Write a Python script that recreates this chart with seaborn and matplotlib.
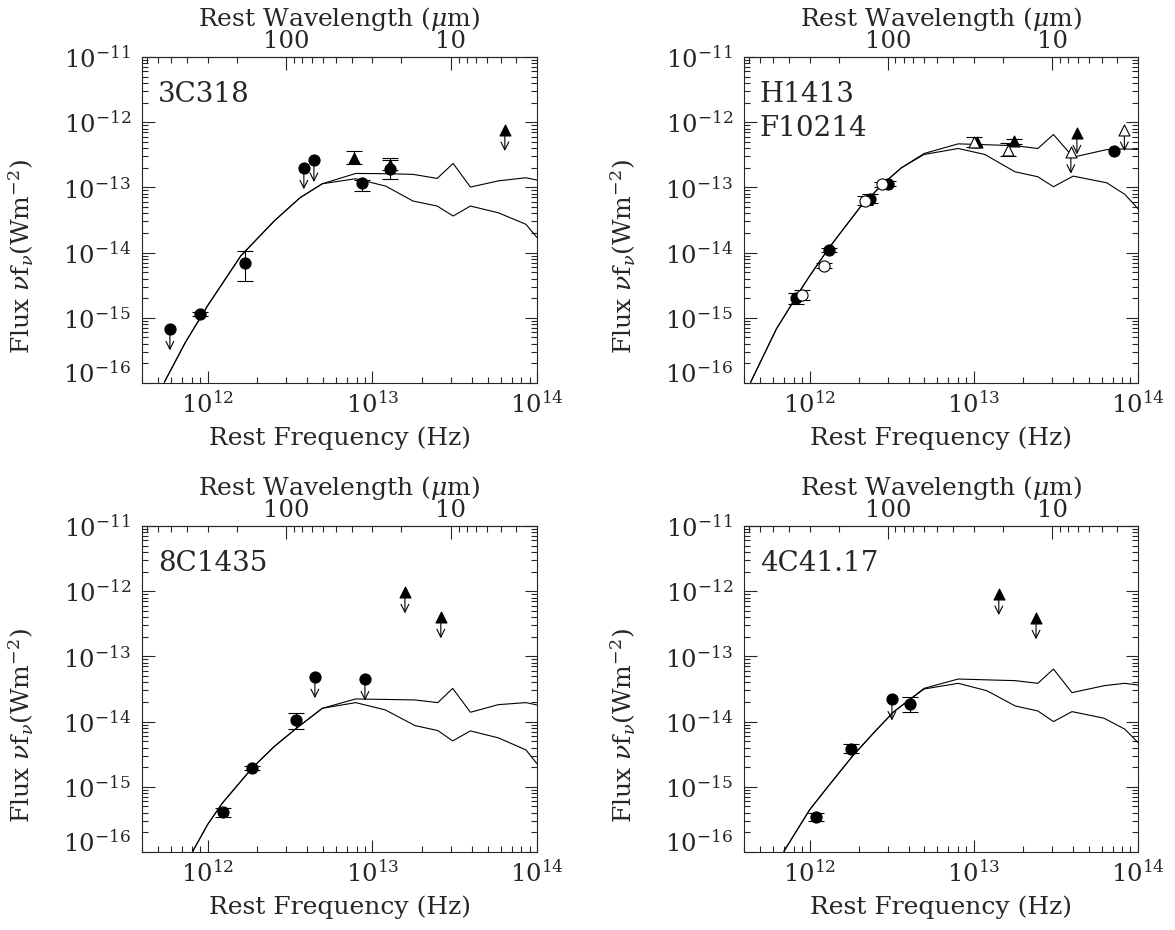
import numpy as np
import pandas as pd
import matplotlib
matplotlib.use('Agg')
import matplotlib.pyplot as plt
import matplotlib.ticker as mticker
import matplotlib.transforms as mtransforms
import seaborn as sns

C_MICRON = 2.998e14  # speed of light in micron * Hz

# values, all in log10 (Hz, W m^-2); errors in dex
# ---- 3C318 ----
p1_lognu = [11.769, 11.955, 12.223, 12.583, 12.644, 12.887, 12.936, 13.107, 13.107, 13.804]
p1_logf = [-15.17, -14.94, -14.153, -12.699, -12.587, -12.546, -12.939, -12.714, -12.658, -12.112]
p1_err_up = [0, 0.03, 0.18, 0, 0, 0.10, 0.06, 0.16, 0.08, 0]
p1_err_dn = [0, 0.03, 0.28, 0, 0, 0.09, 0.12, 0.16, 0.08, 0]
p1_limit = [1, 0, 0, 1, 1, 0, 0, 0, 0, 1]
p1_symbol = ['circle', 'circle', 'circle', 'circle', 'circle', 'triangle', 'circle', 'circle', 'triangle', 'triangle']
p1_hollow = [0, 0, 0, 0, 0, 0, 0, 0, 0, 0]
p1_model_lognu = [11.735, 11.863, 11.998, 12.2, 12.403, 12.56, 12.695, 12.898, 13.08, 13.246, 13.393, 13.49, 13.595, 13.765, 13.932, 14.0]
p1_model_hi = [-15.99, -15.378, -14.816, -14.05, -13.515, -13.158, -12.944, -12.786, -12.79, -12.80, -12.862, -12.633, -12.995, -12.90, -12.852, -12.888]
p1_model_lo = [-15.99, -15.378, -14.816, -14.05, -13.515, -13.158, -12.944, -12.867, -12.98, -13.209, -13.286, -13.439, -13.286, -13.39, -13.566, -13.77]

# ---- H1413 / F10214 ----
p2_lognu = [11.919, 12.115, 12.37, 12.478, 13.852, 11.954, 12.085, 12.339, 12.443,
            13.0, 13.21, 13.02, 13.245, 13.591, 13.628, 13.917]
p2_logf = [-14.704, -13.959, -13.173, -12.944, -12.444, -14.653, -14.204, -13.204, -12.954,
           -12.306, -12.42, -12.306, -12.29, -12.459, -12.163, -12.112]
p2_err_up = [0.08, 0.03, 0.07, 0.04, 0, 0.08, 0.04, 0.07, 0.04, 0.08, 0.10, 0, 0.04, 0, 0, 0]
p2_err_dn = [0.08, 0.03, 0.07, 0.04, 0, 0.08, 0.04, 0.07, 0.04, 0.08, 0.10, 0, 0.04, 0, 0, 0]
p2_limit = [0, 0, 0, 0, 0, 0, 0, 0, 0, 0, 0, 0, 0, 1, 1, 1]
p2_symbol = ['circle'] * 9 + ['triangle'] * 7
p2_hollow = [0, 0, 0, 0, 0, 1, 1, 1, 1, 1, 1, 0, 0, 1, 0, 1]
p2_model_lognu = [11.64, 11.797, 11.935, 12.0, 12.12, 12.305, 12.443, 12.559, 12.697, 12.905, 13.067, 13.25, 13.39, 13.485, 13.605, 13.81, 13.92, 14.0]
p2_model_hi = [-15.99, -15.173, -14.61, -14.357, -13.92, -13.311, -12.954, -12.699, -12.48, -12.332, -12.345, -12.36, -12.403, -12.189, -12.536, -12.42, -12.41, -12.418]
p2_model_lo = [-15.99, -15.173, -14.61, -14.357, -13.92, -13.311, -12.954, -12.699, -12.495, -12.403, -12.495, -12.76, -12.837, -12.99, -12.827, -12.93, -13.107, -13.327]

# ---- 8C1435 ----
p3_lognu = [12.093, 12.268, 12.538, 12.65, 12.954, 13.197, 13.415]
p3_logf = [-15.393, -14.714, -13.98, -13.311, -13.347, -12.01, -12.393]
p3_err_up = [0.07, 0.03, 0.108, 0, 0, 0, 0]
p3_err_dn = [0.07, 0.03, 0.132, 0, 0, 0, 0]
p3_limit = [0, 0, 0, 1, 1, 1, 1]
p3_symbol = ['circle', 'circle', 'circle', 'circle', 'circle', 'triangle', 'triangle']
p3_hollow = [0, 0, 0, 0, 0, 0, 0]
p3_model_lognu = [11.908, 11.998, 12.088, 12.268, 12.403, 12.538, 12.695, 12.898, 13.078, 13.258, 13.397, 13.487, 13.595, 13.765, 13.932, 14.0]
p3_model_hi = [-15.99, -15.58, -15.25, -14.714, -14.383, -14.102, -13.796, -13.653, -13.66, -13.668, -13.709, -13.49, -13.857, -13.74, -13.709, -13.745]
p3_model_lo = [-15.99, -15.58, -15.25, -14.714, -14.383, -14.102, -13.796, -13.709, -13.821, -14.061, -14.138, -14.296, -14.143, -14.25, -14.434, -14.648]

# ---- 4C41.17 ----
p4_lognu = [12.039, 12.249, 12.61, 12.501, 13.152, 13.379]
p4_logf = [-15.464, -14.413, -13.724, -13.653, -12.036, -12.408]
p4_err_up = [0.06, 0.07, 0.096, 0, 0, 0]
p4_err_dn = [0.06, 0.07, 0.123, 0, 0, 0]
p4_limit = [0, 0, 0, 1, 1, 1]
p4_symbol = ['circle', 'circle', 'circle', 'circle', 'triangle', 'triangle']
p4_hollow = [0, 0, 0, 0, 0, 0]
p4_model_lognu = [11.843, 12.0, 12.12, 12.259, 12.397, 12.513, 12.697, 12.905, 13.079, 13.252, 13.39, 13.485, 13.598, 13.794, 13.92, 14.0]
p4_model_hi = [-15.99, -15.352, -14.97, -14.536, -14.153, -13.847, -13.49, -13.347, -13.36, -13.372, -13.413, -13.194, -13.556, -13.449, -13.413, -13.439]
p4_model_lo = [-15.99, -15.352, -14.97, -14.536, -14.153, -13.847, -13.50, -13.413, -13.526, -13.76, -13.837, -14.0, -13.847, -13.949, -14.117, -14.321]

panel_names = ['3C318', 'H1413\nF10214', '8C1435', '4C41.17']
LIMIT_ARROW_DEX = 0.33

panels = [
    (p1_lognu, p1_logf, p1_err_up, p1_err_dn, p1_limit, p1_symbol, p1_hollow, p1_model_lognu, p1_model_hi, p1_model_lo),
    (p2_lognu, p2_logf, p2_err_up, p2_err_dn, p2_limit, p2_symbol, p2_hollow, p2_model_lognu, p2_model_hi, p2_model_lo),
    (p3_lognu, p3_logf, p3_err_up, p3_err_dn, p3_limit, p3_symbol, p3_hollow, p3_model_lognu, p3_model_hi, p3_model_lo),
    (p4_lognu, p4_logf, p4_err_up, p4_err_dn, p4_limit, p4_symbol, p4_hollow, p4_model_lognu, p4_model_hi, p4_model_lo),
]

# axes boxes in figure fractions (figure is 1175 x 930 px)
boxes = [
    [0.1209, 0.5882, 0.3362, 0.3505],
    [0.6332, 0.5882, 0.3353, 0.3505],
    [0.1209, 0.0839, 0.3362, 0.3505],
    [0.6332, 0.0839, 0.3353, 0.3505],
]

MARKERS = {'circle': 'o', 'triangle': '^'}
SIZES = {'circle': 64, 'triangle': 62}
TICK_FS = 17.5
LABEL_FS = 18

sns.set_style('ticks', {'xtick.direction': 'in', 'ytick.direction': 'in'})
plt.rcParams['font.family'] = ['DejaVu Serif']
plt.rcParams['mathtext.fontset'] = 'dejavuserif'


def nu2lam(x):
    x = np.asarray(x, dtype=float)
    with np.errstate(divide='ignore', invalid='ignore'):
        return C_MICRON / x


def ylab(v, pos):
    e = int(round(np.log10(v)))
    if e == -16:
        return ''
    return r'$10^{%d}$' % e


def draw_panel(fig, box, name, data):
    lognu, logf, up, dn, limit, symbol, hollow, mlognu, mhi, mlo = data
    ax = fig.add_axes(box)
    ax.set_xscale('log')
    ax.set_yscale('log')

    mnu = 10 ** np.array(mlognu)
    sns.lineplot(x=mnu, y=10 ** np.array(mhi), ax=ax, color='black', lw=0.8,
                 estimator=None, sort=False, zorder=1)
    sns.lineplot(x=mnu, y=10 ** np.array(mlo), ax=ax, color='black', lw=0.8,
                 estimator=None, sort=False, zorder=1)

    df = pd.DataFrame({'nu': 10 ** np.array(lognu), 'f': 10 ** np.array(logf),
                       'up': up, 'dn': dn, 'limit': limit,
                       'symbol': symbol, 'hollow': hollow})

    err = df[(df['up'] > 0) | (df['dn'] > 0)]
    if len(err):
        lo = err['f'] - err['f'] * 10 ** (-err['dn'])
        hi = err['f'] * 10 ** err['up'] - err['f']
        ax.errorbar(err['nu'], err['f'], yerr=[lo, hi], fmt='none', ecolor='black',
                    elinewidth=0.8, capsize=5.5, capthick=0.8, zorder=2)

    # upper limits: arrow pointing down from the marker
    for _, r in df[df['limit'] == 1].iterrows():
        ax.annotate('', xy=(r['nu'], r['f'] * 10 ** (-LIMIT_ARROW_DEX)),
                    xytext=(r['nu'], r['f']),
                    arrowprops=dict(arrowstyle='->', lw=0.8, color='black',
                                    shrinkA=0, shrinkB=0, mutation_scale=14),
                    zorder=3)

    for (sym, hol), sub in df.groupby(['symbol', 'hollow']):
        sns.scatterplot(data=sub, x='nu', y='f', ax=ax, marker=MARKERS[sym],
                        s=SIZES[sym], color='white' if hol else 'black',
                        edgecolor='black', linewidth=0.8, zorder=4, legend=False)

    ax.set_xlim(10 ** 11.6, 1e14)
    ax.set_ylim(1e-16, 1e-11)

    ax.xaxis.set_major_locator(mticker.LogLocator(base=10, numticks=10))
    ax.xaxis.set_minor_locator(mticker.LogLocator(base=10, subs=np.arange(2, 10), numticks=100))
    ax.xaxis.set_major_formatter(mticker.LogFormatterMathtext())
    ax.xaxis.set_minor_formatter(mticker.NullFormatter())
    ax.yaxis.set_major_locator(mticker.LogLocator(base=10, numticks=10))
    ax.yaxis.set_minor_locator(mticker.LogLocator(base=10, subs=np.arange(2, 10), numticks=100))
    ax.yaxis.set_major_formatter(mticker.FuncFormatter(ylab))
    ax.yaxis.set_minor_formatter(mticker.NullFormatter())

    ax.tick_params(which='both', direction='in', top=False, right=True,
                   labelsize=TICK_FS, width=0.8)
    ax.tick_params(which='major', length=9)
    ax.tick_params(which='minor', length=4.5)
    ax.tick_params(axis='x', pad=6)
    ax.tick_params(axis='y', pad=8)
    for sp in ax.spines.values():
        sp.set_linewidth(0.8)

    # 10^-16 label sits above its tick in the original
    trans = mtransforms.offset_copy(
        mtransforms.blended_transform_factory(ax.transAxes, ax.transData),
        fig=fig, x=-8, y=-3, units='points')
    ax.text(0, 1e-16, r'$10^{-16}$', transform=trans, ha='right', va='bottom', fontsize=TICK_FS)

    ax.set_xlabel('Rest Frequency (Hz)', fontsize=LABEL_FS, labelpad=6)
    ax.set_ylabel(r'Flux $\nu$f$_\nu$(Wm$^{-2}$)', fontsize=LABEL_FS)
    ax.yaxis.set_label_coords(-0.268, 0.387)

    secax = ax.secondary_xaxis('top', functions=(nu2lam, nu2lam))
    secax.set_xticks([10, 100], labels=['10', '100'])
    secax.xaxis.set_minor_locator(mticker.LogLocator(base=10, subs=np.arange(2, 10), numticks=100))
    secax.xaxis.set_minor_formatter(mticker.NullFormatter())
    secax.tick_params(which='both', direction='in', labelsize=TICK_FS, pad=3, width=0.8)
    secax.tick_params(which='major', length=9)
    secax.tick_params(which='minor', length=4.5)
    secax.spines['top'].set_linewidth(0.8)
    secax.set_xlabel(r'Rest Wavelength ($\mu$m)', fontsize=LABEL_FS, labelpad=3)

    ax.text(0.04, 0.925, name, transform=ax.transAxes, ha='left', va='top',
            fontsize=20, linespacing=1.3)
    return ax


fig = plt.figure(figsize=(11.75, 9.3), dpi=100)
for box, name, data in zip(boxes, panel_names, panels):
    draw_panel(fig, box, name, data)

fig.savefig('out.png', dpi=100)
